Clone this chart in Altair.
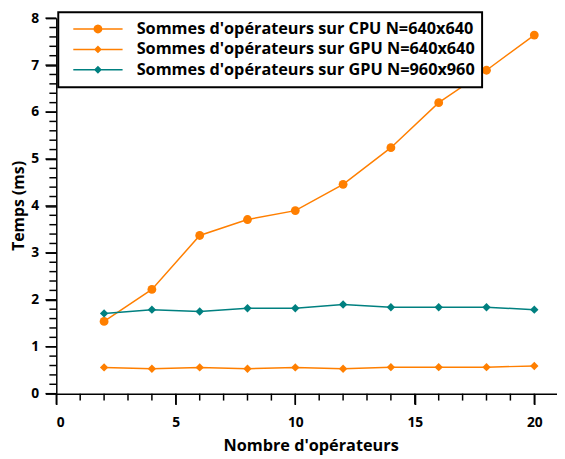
import math
import altair as alt
import pandas as pd

# ---- data ----
n_ops = [2, 4, 6, 8, 10, 12, 14, 16, 18, 20]
cpu_640 = [1.54, 2.22, 3.37, 3.71, 3.90, 4.46, 5.24, 6.20, 6.89, 7.64]
gpu_640 = [0.56, 0.53, 0.56, 0.53, 0.56, 0.53, 0.565, 0.565, 0.565, 0.59]
gpu_960 = [1.71, 1.79, 1.75, 1.82, 1.82, 1.90, 1.84, 1.84, 1.84, 1.79]

series_names = [
    "Sommes d'opérateurs sur CPU N=640x640",
    "Sommes d'opérateurs sur GPU N=640x640",
    "Sommes d'opérateurs sur GPU N=960x960",
]
series_colors = ["#ff7f00", "#ff7f00", "#008080"]
series_shapes = ["circle", "diamond", "diamond"]
series_sizes = [80, 72, 72]

x_major = [0, 5, 10, 15, 20]
x_minor = [v for v in range(0, 21) if v % 5 != 0]
y_major = list(range(0, 9))
y_minor = [round(i * 0.2, 1) for i in range(0, 41) if i % 5 != 0]

rows = []
for name, vals in zip(series_names, [cpu_640, gpu_640, gpu_960]):
    for x, y in zip(n_ops, vals):
        rows.append({"n": x, "t": y, "serie": name})
df = pd.DataFrame(rows)

FONT = "Open Sans"

# legend symbols: short line + marker (1 unit = 5 px with symbolSize 100)
line_part = "M-5,-0.15 L5,-0.15 L5,0.15 L-5,0.15 Z"
poly = [(0.9 * math.cos(2 * math.pi * k / 16), 0.9 * math.sin(2 * math.pi * k / 16)) for k in range(16)]
circ_part = "M" + " L".join(f"{px:.3f},{py:.3f}" for px, py in poly) + " Z"
diam_part = "M0,-0.8 L0.8,0 L0,0.8 L-0.8,0 Z"
legend_paths = [line_part + " " + circ_part, line_part + " " + diam_part, line_part + " " + diam_part]

PLOT_W, PLOT_H = 508, 381
x_scale = alt.Scale(domain=[0, 20.95], nice=False, zero=False)
y_scale = alt.Scale(domain=[0, 8], nice=False)

x_major_axis = alt.Axis(
    orient="bottom",
    title="Nombre d'opérateurs",
    values=x_major,
    labelOverlap=False,
    ticks=True,
    tickSize=11,
    labelPadding=11,
    grid=False,
    domainColor="black",
    domainWidth=1.5,
    tickColor="black",
    tickWidth=1.5,
    labelFont=FONT,
    labelFontSize=14,
    labelFontWeight="bold",
    labelColor="black",
    titleFont=FONT,
    titleFontSize=16.5,
    titleFontWeight="bold",
    titleColor="black",
    titleBaseline="alphabetic",
    titleX=258,
    titleY=58,
)
y_major_axis = alt.Axis(
    orient="left",
    title="Temps (ms)",
    values=y_major,
    labelOverlap=False,
    ticks=True,
    tickSize=11,
    labelPadding=7,
    grid=False,
    domainColor="black",
    domainWidth=1.5,
    tickColor="black",
    tickWidth=1.5,
    labelFont=FONT,
    labelFontSize=14,
    labelFontWeight="bold",
    labelColor="black",
    titleFont=FONT,
    titleFontSize=16,
    titleFontWeight="bold",
    titleColor="black",
    titleX=-30,
    titleY=190,
)

layers = []

# tick marks (major and minor) along both axes
tick_specs = [
    (x_major, "x", 11),
    (x_minor, "x", 7),
    (y_major, "y", 11),
    (y_minor, "y", 7),
]
for vals, axis_name, length in tick_specs:
    tdf = pd.DataFrame({"v": vals})
    rule = alt.Chart(tdf).mark_rule(color="black", strokeWidth=1.5)
    if axis_name == "x":
        rule = rule.encode(
            x=alt.X("v:Q", scale=x_scale, axis=None),
            y=alt.value(PLOT_H),
            y2=alt.value(PLOT_H + length),
        )
    else:
        rule = rule.encode(
            y=alt.Y("v:Q", scale=y_scale, axis=None),
            x=alt.value(0),
            x2=alt.value(-length),
        )
    layers.append(rule)

base = alt.Chart(df)

# lines, one per series (first one carries the axes)
for i, name in enumerate(series_names):
    xa = x_major_axis if i == 0 else None
    ya = y_major_axis if i == 0 else None
    layers.append(
        base.transform_filter(alt.datum.serie == name)
        .mark_line(strokeWidth=1.5, color=series_colors[i])
        .encode(
            x=alt.X("n:Q", scale=x_scale, axis=xa),
            y=alt.Y("t:Q", scale=y_scale, axis=ya),
        )
    )

# markers, one per series
for i, name in enumerate(series_names):
    layers.append(
        base.transform_filter(alt.datum.serie == name)
        .mark_point(shape=series_shapes[i], filled=True, size=series_sizes[i], opacity=1, color=series_colors[i])
        .encode(
            x=alt.X("n:Q", scale=x_scale, axis=None),
            y=alt.Y("t:Q", scale=y_scale, axis=None),
        )
    )

# invisible layer that only carries the legend
layers.append(
    base.mark_point(filled=True, opacity=0).encode(
        x=alt.X("n:Q", scale=x_scale, axis=None),
        y=alt.Y("t:Q", scale=y_scale, axis=None),
        color=alt.Color(
            "serie:N",
            scale=alt.Scale(domain=series_names, range=series_colors),
            legend=alt.Legend(title=None),
        ),
        shape=alt.Shape(
            "serie:N",
            scale=alt.Scale(domain=series_names, range=legend_paths),
            legend=alt.Legend(title=None),
        ),
    )
)

chart = (
    alt.layer(*layers)
    .resolve_axis(x="independent", y="independent")
    .properties(
        width=PLOT_W,
        height=PLOT_H,
        autosize=alt.AutoSizeParams(type="none"),
        padding={"left": 49, "top": 7, "right": 0, "bottom": 64},
    )
    .configure_view(stroke=None)
    .configure_legend(
        orient="none",
        legendX=2,
        legendY=-6,
        padding=7,
        clipHeight=20,
        strokeColor="black",
        strokeWidth=2,
        fillColor="white",
        symbolSize=100,
        symbolOpacity=1,
        symbolStrokeWidth=0,
        symbolOffset=25,
        labelOffset=31,
        rowPadding=0.7,
        labelFont=FONT,
        labelFontSize=16.5,
        labelFontWeight="bold",
        labelColor="black",
        labelLimit=0,
    )
)

chart.save("out.html", embed_options={"renderer": "svg", "actions": False})
